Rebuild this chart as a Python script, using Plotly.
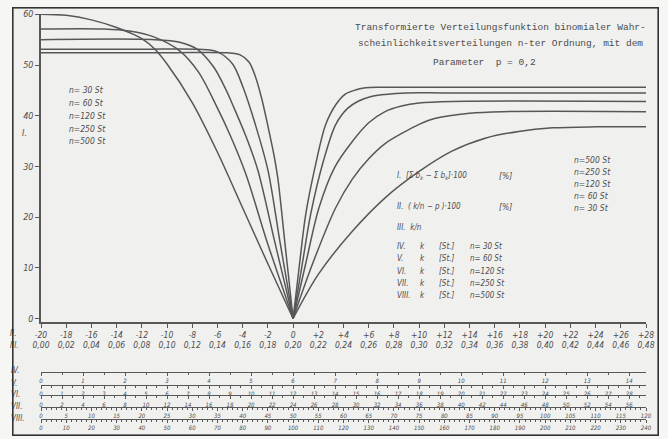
import plotly.graph_objects as go

# ---------------- data ----------------
P = 0.2
X_MIN, X_MAX = -20, 28
N_VALUES = [30, 60, 120, 250, 500]

# left branch (x < 0) of curve I
L30_x = [-20, -18, -16, -14, -13, -12, -11, -10, -8, -6, -4, -2, 0]
L30_y = [60.0, 59.8, 58.9, 57.4, 56.4, 55.2, 53.2, 50.2, 42.6, 32.8, 21.8, 10.8, 0]
L60_x = [-20, -15, -13, -11, -9, -7.5, -6, -5, -3.75, -2.1, -1, 0]
L60_y = [57.1, 57.1, 56.7, 55.5, 52.8, 48.6, 41.5, 36.2, 28.5, 15.4, 7.3, 0]
L120_x = [-20, -11, -9, -7.6, -6.3, -5.3, -4.8, -3.8, -2.8, -1.5, -0.75, 0]
L120_y = [55.0, 55.0, 54.5, 53.1, 49.6, 45.0, 42.2, 36.3, 29.3, 15.6, 7.8, 0]
L250_x = [-20, -12, -7.5, -6, -4.8, -4.0, -3.0, -2.0, -1.06, -0.5, 0]
L250_y = [53.1, 53.1, 53.1, 52.6, 50.2, 45.8, 38.3, 29.3, 15.4, 7.3, 0]
L500_x = [-20, -10, -5.2, -4.2, -3.5, -3.0, -2.5, -2.0, -1.5, -1.2, -0.67, -0.3, 0]
L500_y = [52.4, 52.4, 52.4, 52.0, 50.6, 47.8, 43.5, 38.0, 32.0, 27.5, 15.4, 6.9, 0]

# right branch (x > 0)
R30_x = [0, 2.0, 4.7, 7.3, 10, 12.6, 15.3, 17.9, 20.6, 24, 28]
R30_y = [0, 8.7, 17.2, 23.8, 29.0, 33.0, 35.6, 36.9, 37.6, 37.8, 37.8]
R60_x = [0, 1.5, 3.37, 4.7, 6.0, 7.3, 8.7, 10, 11.3, 14, 16.6, 28]
R60_y = [0, 10.5, 21.8, 27.5, 31.5, 34.5, 36.6, 38.3, 39.5, 40.5, 40.8, 40.8]
R120_x = [0, 1.0, 2.05, 3.3, 4.7, 6, 7.3, 8.6, 10, 12.6, 28]
R120_y = [0, 10.8, 21.8, 29.8, 34.9, 38.6, 40.8, 41.9, 42.5, 42.8, 42.8]
R250_x = [0, 0.7, 1.39, 2.4, 3.37, 4.3, 5.2, 6.2, 7.3, 9, 12, 28]
R250_y = [0, 10.3, 20.5, 31.0, 38.2, 41.4, 42.9, 43.8, 44.2, 44.5, 44.5, 44.5]
R500_x = [0, 0.5, 1.0, 1.8, 2.58, 3.4, 4.17, 5.0, 5.75, 7, 12, 28]
R500_y = [0, 10.5, 20.5, 30.5, 38.2, 42.2, 44.3, 45.1, 45.5, 45.6, 45.6, 45.6]

LEFT = [(L30_x, L30_y), (L60_x, L60_y), (L120_x, L120_y), (L250_x, L250_y), (L500_x, L500_y)]
RIGHT = [(R30_x, R30_y), (R60_x, R60_y), (R120_x, R120_y), (R250_x, R250_y), (R500_x, R500_y)]

Y_TICKS = [0, 10, 20, 30, 40, 50, 60]
X_TICKS = [-20, -18, -16, -14, -12, -10, -8, -6, -4, -2, 0, 2, 4, 6, 8, 10, 12, 14,
           16, 18, 20, 22, 24, 26, 28]
II_LABELS = ["-20", "-18", "-16", "-14", "-12", "-10", "-8", "-6", "-4", "-2", "0",
             "+2", "+4", "+6", "+8", "+10", "+12", "+14", "+16", "+18", "+20", "+22",
             "+24", "+26", "+28"]
III_LABELS = ["0,00", "0,02", "0,04", "0,06", "0,08", "0,10", "0,12", "0,14", "0,16",
              "0,18", "0,20", "0,22", "0,24", "0,26", "0,28", "0,30", "0,32", "0,34",
              "0,36", "0,38", "0,40", "0,42", "0,44", "0,46", "0,48"]

SCALE_ROMAN = ["IV.", "V.", "VI.", "VII.", "VIII."]
SCALE_DTICK = [1, 1, 2, 5, 10]
SCALE_MINOR = [0.5, 0.5, 1, 1, 2]

LEFT_LEGEND = ["n= 30 St", "n= 60 St", "n=120 St", "n=250 St", "n=500 St"]
RIGHT_LEGEND = ["n=500 St", "n=250 St", "n=120 St", "n= 60 St", "n= 30 St"]
TITLE_LINES = ["Transformierte Verteilungsfunktion binomialer Wahr-",
               "scheinlichkeitsverteilungen n-ter Ordnung, mit dem",
               "Parameter  p = 0,2"]

# ---------------- styling / geometry ----------------
W, H = 668, 439
ML, MR, MT, MB = 41, 22, 10, 9
PW, PH = W - ML - MR, H - MT - MB
INK = "#4d4d4d"
LINE = "#575757"
HAND = "DejaVu Sans Condensed, Liberation Sans Narrow, DejaVu Sans"
MONO = "Liberation Mono, DejaVu Sans Mono, monospace"
PX_PER_UNIT = 5.07
Y_ZERO_PIX, AXIS_PIX, TOP_PIX = 318.5, 322, 14


def px(X):
    return (X - ML) / PW


def py(Y):
    return (H - MB - Y) / PH


fig = go.Figure()

for (lx, ly), (rx, ry) in zip(LEFT, RIGHT):
    for xs, ys in ((lx, ly), (rx, ry)):
        fig.add_trace(go.Scatter(x=xs, y=ys, mode="lines",
                                 line=dict(color=LINE, width=1.5, shape="spline", smoothing=0.9),
                                 hoverinfo="skip", showlegend=False))

layout = dict(
    template="none",
    width=W, height=H,
    margin=dict(l=ML, r=MR, t=MT, b=MB, autoexpand=False),
    paper_bgcolor="#f6f6f5",
    plot_bgcolor="rgba(0,0,0,0)",
    showlegend=False,
    xaxis=dict(range=[X_MIN, X_MAX], tickvals=X_TICKS, ticktext=II_LABELS,
               showline=True, linecolor=LINE, linewidth=1.5, ticks="outside", ticklen=4,
               tickcolor=LINE, showgrid=False, zeroline=False, anchor="y", automargin=False,
               tickfont=dict(family=HAND, size=8.5, color=INK, style="italic")),
    yaxis=dict(range=[-(AXIS_PIX - Y_ZERO_PIX) / PX_PER_UNIT, (Y_ZERO_PIX - TOP_PIX) / PX_PER_UNIT],
               domain=[py(AXIS_PIX), py(TOP_PIX)], tickvals=Y_TICKS,
               showline=True, linecolor=LINE, linewidth=1.5, ticks="outside", ticklen=4,
               tickcolor=LINE, showgrid=False, zeroline=False, automargin=False,
               tickfont=dict(family=HAND, size=9, color=INK, style="italic")),
    # row III (k/n) as a second, line-less x axis
    xaxis7=dict(overlaying="x", anchor="free", position=py(338), side="bottom",
                range=[X_MIN, X_MAX], tickvals=X_TICKS, ticktext=III_LABELS,
                showline=False, ticks="", showgrid=False, zeroline=False, automargin=False,
                tickfont=dict(family=HAND, size=8.5, color=INK, style="italic")),
)
fig.add_trace(go.Scatter(x=[X_MIN, X_MAX], y=[None, None], xaxis="x7", yaxis="y",
                         mode="lines", hoverinfo="skip", showlegend=False))

# bottom scales IV..VIII as free x-axes in k units
SCALE_Y = [371.7, 384.7, 395.3, 406.7, 419.0]
for i, (n, dt, mdt, ypix) in enumerate(zip(N_VALUES, SCALE_DTICK, SCALE_MINOR, SCALE_Y)):
    k0 = n * (P + X_MIN / 100)
    k1 = n * (P + X_MAX / 100)
    name = "xaxis%d" % (i + 2)
    layout[name] = dict(overlaying="x", anchor="free", position=py(ypix), side="bottom",
                        range=[k0, k1], tick0=0, dtick=dt, showline=True, linecolor=LINE,
                        linewidth=1.2, ticks="outside", ticklen=3, tickcolor=LINE,
                        showgrid=False, zeroline=False, automargin=False,
                        minor=dict(dtick=mdt, ticks="outside", ticklen=2, tickcolor=LINE),
                        tickfont=dict(family=HAND, size=6, color=INK, style="italic"))
    fig.add_trace(go.Scatter(x=[k0, k1], y=[None, None], xaxis="x%d" % (i + 2), yaxis="y",
                             mode="lines", hoverinfo="skip", showlegend=False))

fig.update_layout(**layout)

ann = []
def text(X, Y, s, size=8.5, family=HAND, xanchor="left", italic=True):
    ann.append(dict(x=px(X), y=py(Y), xref="paper", yref="paper", text=s, showarrow=False,
                    xanchor=xanchor, yanchor="middle",
                    font=dict(family=family, size=size, color=INK,
                              style="italic" if italic else "normal")))

# title (typewriter)
for s, X, Y in zip(TITLE_LINES, [500, 500, 484], [28, 43, 62]):
    text(X, Y, s, size=9.5, family=MONO, xanchor="center", italic=False)

for s, Y in zip(LEFT_LEGEND, [90, 103, 116, 128.5, 141]):
    text(67, Y, s)
for s, Y in zip(RIGHT_LEGEND, [160, 172, 183.5, 195.5, 207.5]):
    text(572, Y, s)

# explanation block
text(395, 176, "I.  [Σ b<sub>k</sub> − Σ b<sub>k</sub>]·100", size=8)
text(497, 176, "[%]")
text(395, 206.5, "II.  ( k/n − p )·100", size=8)
text(497, 206.5, "[%]")
text(395, 228, "III.  k/n", size=8)
for roman, s, Y in zip(SCALE_ROMAN, ["n= 30 St", "n= 60 St", "n=120 St", "n=250 St", "n=500 St"],
                       [246.5, 258.5, 271.5, 283.5, 295]):
    text(395, Y, roman, size=8)
    text(418, Y, "k", size=8)
    text(437, Y, "[St.]", size=8)
    text(468, Y, s, size=8)

# axis row labels
text(20, 133, "I.", size=9)
text(8, 333, "II.", size=8)
text(8, 345, "III.", size=8)
for roman, Y in zip(SCALE_ROMAN, [370, 383, 394, 406, 418]):
    text(9, Y, roman, size=8)

# outer frame of the sheet (drawn as a bordered empty annotation box)
ann.append(dict(x=px(335), y=py(221), xref="paper", yref="paper", text="", showarrow=False,
                width=644, height=426, bordercolor="#333333", borderwidth=1.6, borderpad=0,
                xanchor="center", yanchor="middle"))

fig.update_layout(annotations=ann)

fig.add_shape(type="rect", xref="paper", yref="paper", x0=px(12), x1=px(658), y0=py(435), y1=py(7),
              line=dict(width=0), fillcolor="#f0f0ef", layer="below")

fig.write_html("out.html", config={"displayModeBar": False},
               post_script="document.body.style.margin='0';document.body.style.padding='0';")
